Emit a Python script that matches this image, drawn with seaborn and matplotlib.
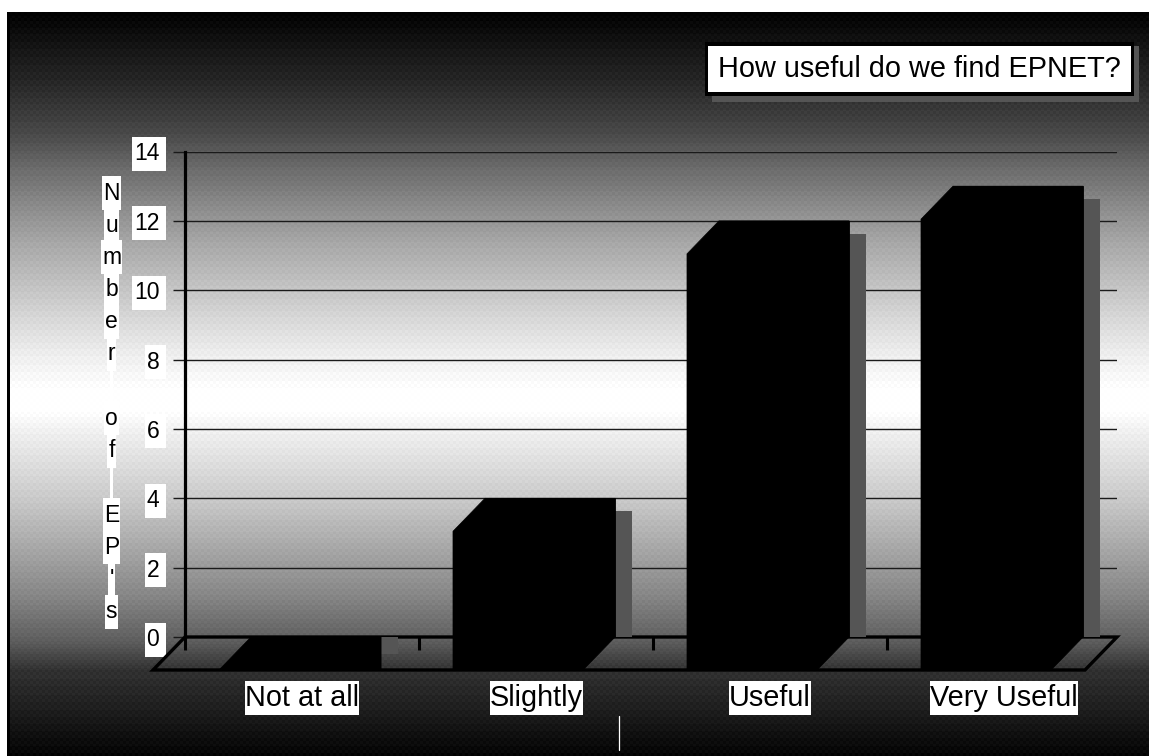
import numpy as np
import pandas as pd
import matplotlib
matplotlib.use("Agg")
import matplotlib.pyplot as plt
from matplotlib.lines import Line2D
from matplotlib.path import Path
from matplotlib.patches import Polygon, Rectangle
import seaborn as sns

# Survey responses
categories = ["Not at all", "Slightly", "Useful", "Very Useful"]
ep_counts = [0, 4, 12, 13]
y_ticks = [0, 2, 4, 6, 8, 10, 12, 14]
y_title = "Number of EP's"
chart_title = "How useful do we find EPNET?"

W, H = 1149, 756
sns.set_theme(style="white")
plt.rcParams["font.family"] = ["Liberation Sans", "DejaVu Sans"]
fig = plt.figure(figsize=(W / 100, H / 100), dpi=100, facecolor="white")


def plate(left_pad, right_pad, height):
    """White label plate: snug at the sides, fixed height (all in pixels)."""
    def box(x0, y0, width, h, mutation_size):
        yc = y0 + h / 2
        xa, xb = x0 - left_pad, x0 + width + right_pad
        ya, yb = yc - height / 2, yc + height / 2
        return Path([(xa, ya), (xb, ya), (xb, yb), (xa, yb), (xa, ya)], closed=True)
    return box


# Slide backdrop: dark-light-dark vertical ramp with a fine woven texture
stops_y = [12, 30, 83, 135, 170, 240, 350, 390, 410, 430, 500, 600, 640, 670, 700, 756]
stops_v = [0, 12, 40, 75, 110, 165, 235, 255, 255, 240, 200, 130, 95, 50, 35, 4]
rows = np.arange(12, H)
ramp = np.interp(rows, stops_y, stops_v)
ramp = np.round(ramp / 4) * 4
xx, yy = np.meshgrid(np.arange(7, W), rows)
weave = 2.5 * (((xx // 3) + (yy // 3)) % 2 * 2 - 1)
shade = np.clip(ramp[:, None] + weave, 0, 255)
bg = fig.add_axes([7 / W, 0, (W - 7) / W, (H - 12) / H], zorder=0)
bg.imshow(shade, cmap="gray", vmin=0, vmax=255, aspect="auto", interpolation="nearest")
bg.axis("off")
fig.add_artist(Rectangle((7 / W, 0), 3 / W, (H - 12) / H, transform=fig.transFigure,
                         color="black", lw=0, zorder=0.5))

# Plot area is the back wall of the pseudo-3D chart
left, right, top, bottom = 185, 1117, 151.5, 637
unit = 234
ax = fig.add_axes([left / W, 1 - bottom / H, (right - left) / W, (bottom - top) / H], zorder=1)
ax.patch.set_visible(False)

df = pd.DataFrame({"response": categories, "count": ep_counts})
sns.barplot(data=df, x="response", y="count", color="black", saturation=1, width=0.556,
            edgecolor="black", linewidth=0.5, ax=ax, zorder=3)

x0 = -0.56
x1 = x0 + (right - left) / unit
ax.set_xlim(x0, x1)
ax.set_ylim(0, 14)
ax.set_xlabel("")
ax.set_ylabel("")
for side in ("top", "right", "bottom"):
    ax.spines[side].set_visible(False)
ax.spines["left"].set_linewidth(2.3)
ax.spines["left"].set_color("black")

ax.set_yticks(y_ticks)
ax.grid(axis="y", color="#1a1a1a", lw=1.0, zorder=1)
ax.set_axisbelow(True)
ax.tick_params(axis="y", length=8.5, width=1.0, color="#1a1a1a", pad=10, labelsize=16.5,
               labelcolor="black", left=True)
for lab in ax.get_yticklabels():
    lab.set_bbox(dict(boxstyle=plate(2, 7, 34), facecolor="white", edgecolor="none"))

ax.set_xticks([x0 + 0.5 + k for k in range(len(categories))], categories)
ax.set_xticks([x0 + k for k in range(len(categories))], minor=True)
ax.tick_params(axis="x", which="major", length=0, pad=33.5, labelsize=20.8, labelcolor="black")
ax.tick_params(axis="x", which="minor", length=9.5, width=2.2, color="black", bottom=True)
for lab in ax.get_xticklabels():
    lab.set_bbox(dict(boxstyle=plate(0, 0, 34), facecolor="white", edgecolor="none"))

# Depth of the floor, in data units
dx = 32 / unit
dy = 33 / ((bottom - top) / 14)

ax.add_patch(Polygon([(x0, 0), (x1, 0), (x1 - dx, -dy), (x0 - dx, -dy)],
                     closed=True, fill=False, ec="black", lw=2.4, clip_on=False, zorder=2))

for bar, h in zip(ax.patches[:len(ep_counts)], ep_counts):
    b0, b1 = bar.get_x(), bar.get_x() + bar.get_width()
    # Side shadow falling behind the block
    shadow_top = max(h - 0.37, 0)
    shadow_bot = 0 if h > 0 else -0.5
    ax.add_patch(Rectangle((b1 - 0.01, shadow_bot), 0.082, shadow_top - shadow_bot, fc="#555555",
                           ec="none", clip_on=False, zorder=2.5))
    # Block outline: front face, top and right side merged
    corner = [(b1, 0), (b1 - dx, -dy)] if h > 0 else [(b1, -dy)]
    ax.add_patch(Polygon([(b0 - dx, h - dy), (b0, h), (b1, h), *corner, (b0 - dx, -dy)],
                         closed=True, fc="black", ec="black", lw=0.5, clip_on=False, zorder=3))

# Stacked letters of the vertical axis title
line_h = 32.2
for i, ch in enumerate(y_title):
    yc = 193 + i * line_h
    if ch == " ":
        fig.add_artist(Rectangle((110 / W, 1 - (yc + 16) / H), 3 / W, 32 / H,
                                 transform=fig.transFigure, color="white", lw=0, zorder=1.5))
        continue
    fig.text(111.5 / W, 1 - yc / H, ch, ha="center", va="center", fontsize=16.5, color="black",
             zorder=2, bbox=dict(boxstyle=plate(1, 1, 34), facecolor="white", edgecolor="none"))

# Title box with drop shadow
fig.add_artist(Rectangle((712 / W, 1 - 102 / H), 427 / W, 56 / H, transform=fig.transFigure,
                         color="#555555", lw=0, zorder=2))
fig.add_artist(Rectangle((705 / W, 1 - 96 / H), 429 / W, 54 / H, transform=fig.transFigure,
                         color="black", lw=0, zorder=2.1))
fig.add_artist(Rectangle((708 / W, 1 - 92 / H), 423 / W, 46 / H, transform=fig.transFigure,
                         color="white", lw=0, zorder=2.2))
fig.text(919.5 / W, 1 - 69 / H, chart_title, ha="center", va="center", fontsize=20.8,
         color="black", zorder=3)

# Small rule below the chart
fig.add_artist(Line2D([619 / W, 619 / W], [1 - 750 / H, 1 - 716 / H], transform=fig.transFigure,
                      color="white", lw=0.9, zorder=2))

fig.savefig("out.png", dpi=100, facecolor="white")
